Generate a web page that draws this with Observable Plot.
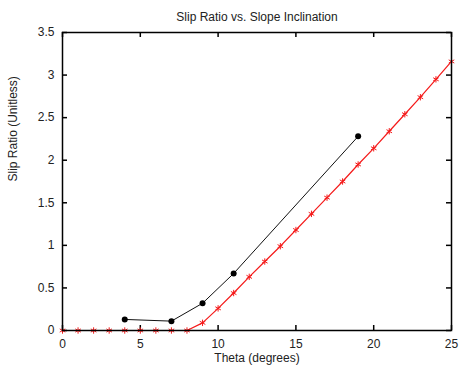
<!DOCTYPE html>
<html><head><meta charset="utf-8">
<script src="https://cdn.jsdelivr.net/npm/d3@7"></script>
<script src="https://cdn.jsdelivr.net/npm/@observablehq/plot@0.6"></script>
<style>body{margin:0;background:#fff;font-family:"Liberation Sans",Arial,sans-serif}</style>
</head><body><div id="chart"></div>
<script>
const title = "Slip Ratio vs. Slope Inclination";
const xLabel = "Theta (degrees)";
const yLabel = "Slip Ratio (Unitless)";
const measuredTheta = [4, 7, 9, 11, 19];
const measuredSlip = [0.13, 0.11, 0.32, 0.67, 2.28];
const modelTheta = [0,1,2,3,4,5,6,7,8,9,10,11,12,13,14,15,16,17,18,19,20,21,22,23,24,25];
const modelSlip = [0,0,0,0,0,0,0,0,0,0.09,0.26,0.44,0.63,0.81,0.99,1.18,1.37,1.56,1.75,1.95,2.14,2.34,2.54,2.74,2.95,3.16];
const xTicks = [0,5,10,15,20,25];
const yTicks = [0,0.5,1,1.5,2,2.5,3,3.5];

const measured = measuredTheta.map((x,i)=>({x, y: measuredSlip[i]}));
const model = modelTheta.map((x,i)=>({x, y: modelSlip[i]}));

const W = 459, H = 373, mt = 32, mb = 43;
const ph = H - mt - mb;
const tickLen = 5;
const fs = 12;

const chart = Plot.plot({
  width: W, height: H,
  marginLeft: 62, marginRight: 8, marginTop: mt, marginBottom: mb,
  style: {fontFamily: '"Liberation Sans", Arial, sans-serif', fontSize: "12px", color: "#222", background: "#fff"},
  x: {domain: [0, 25], ticks: xTicks, label: null},
  y: {domain: [0, 3.5], ticks: yTicks, label: null},
  marks: [
    Plot.axisX({ticks: xTicks, tickSize: 0, tickPadding: 9, fontSize: fs, tickFormat: d => String(d)}),
    Plot.axisY({ticks: yTicks, tickSize: 0, tickPadding: 8, fontSize: fs, tickFormat: d => String(d)}),
    Plot.tickX(xTicks, {x: d => d, insetTop: ph - tickLen, stroke: "black", strokeWidth: 1.5}),
    Plot.tickX(xTicks, {x: d => d, insetBottom: ph - tickLen, stroke: "black", strokeWidth: 1.5}),
    Plot.tickY(yTicks, {y: d => d, insetRight: 389 - tickLen, stroke: "black", strokeWidth: 1.5}),
    Plot.tickY(yTicks, {y: d => d, insetLeft: 389 - tickLen, stroke: "black", strokeWidth: 1.5}),
    Plot.line(model, {x: "x", y: "y", stroke: "#f51a1a", strokeWidth: 1.2}),
    Plot.dot(model, {x: "x", y: "y", symbol: "asterisk", r: 3, stroke: "#f51a1a", strokeWidth: 1}),
    Plot.line(measured, {x: "x", y: "y", stroke: "#111", strokeWidth: 1}),
    Plot.dot(measured, {x: "x", y: "y", r: 3, fill: "black"}),
    Plot.frame({stroke: "black", strokeWidth: 1.5}),
    Plot.text([title], {frameAnchor: "top", dy: -20, fontSize: fs, fill: "#222"}),
    Plot.text([xLabel], {frameAnchor: "bottom", dy: 31, fontSize: fs, fill: "#222"}),
    Plot.text([yLabel], {frameAnchor: "left", dx: -49, rotate: -90, fontSize: fs, fill: "#222"})
  ]
});
document.getElementById("chart").appendChild(chart);
</script></body></html>
